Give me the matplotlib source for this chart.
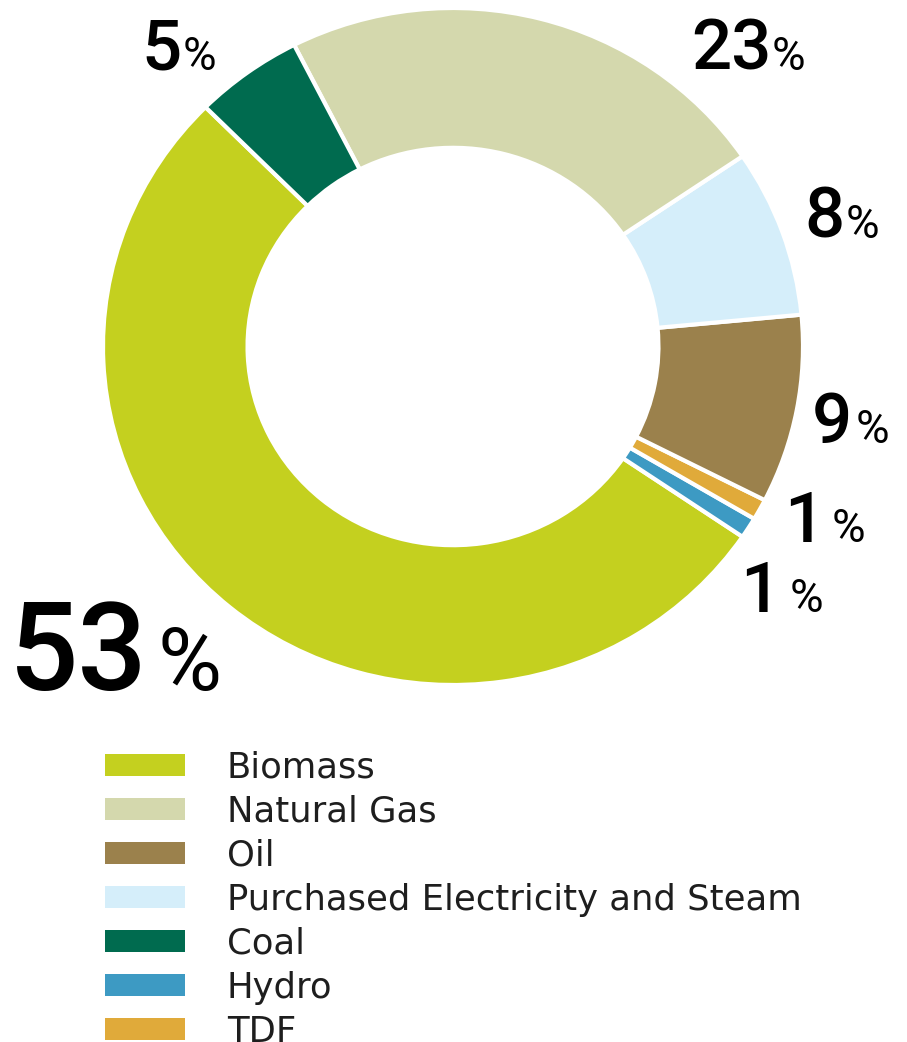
import matplotlib
matplotlib.use("Agg")
import matplotlib.pyplot as plt
from matplotlib.patches import Rectangle

# Energy sources, legend order
categories = ["Biomass", "Natural Gas", "Oil", "Purchased Electricity and Steam",
              "Coal", "Hydro", "TDF"]
shares = [53, 23, 9, 8, 5, 1, 1]
colors = ["#c4d01f", "#d4d8ad", "#9b814c", "#d5eefa", "#006b4f", "#3d9ac3", "#e0aa3a"]

# Order of the wedges around the ring (counter-clockwise from the Biomass start)
ring_order = ["Biomass", "Hydro", "TDF", "Oil", "Purchased Electricity and Steam",
              "Natural Gas", "Coal"]

W, H = 907, 1042
fig = plt.figure(figsize=(W / 100, H / 100), dpi=100)
fig.patch.set_facecolor("white")

FONT = "Roboto"
LEGEND_FONT = "DejaVu Sans"

# Donut axes (slightly wider than tall)
cx, cy = 453, 346.5
rx, ry = 350, 338.5
ax = fig.add_axes([(cx - rx) / W, (H - cy - ry) / H, 2 * rx / W, 2 * ry / H])
idx = [categories.index(c) for c in ring_order]
ax.pie([shares[i] for i in idx], colors=[colors[i] for i in idx],
       startangle=135, counterclock=True, radius=1.0,
       wedgeprops=dict(width=0.413, edgecolor="white", linewidth=3))
ax.set_aspect("auto")
ax.set_xlim(-1, 1)
ax.set_ylim(-1, 1)
ax.axis("off")

# Overlay axes in pixel units for labels and legend
ov = fig.add_axes([0, 0, 1, 1])
ov.set_xlim(0, W)
ov.set_ylim(H, 0)
ov.axis("off")
ov.patch.set_alpha(0)

# Percentage labels: (category, digit right edge, % left edge, baseline, big)
label_pos = [
    ("Biomass", 148, 158, 690, True),
    ("Coal", 181, 183, 70, False),
    ("Natural Gas", 772, 772, 70, False),
    ("Purchased Electricity and Steam", 845, 846, 238, False),
    ("Oil", 852, 856, 443, False),
    ("TDF", 824, 832, 542, False),
    ("Hydro", 780, 790, 612, False),
]
for cat, xr, xp, yb, big in label_pos:
    val = shares[categories.index(cat)]
    fs_num, fs_pct = (88, 63) if big else (51, 33)
    ov.text(xr, yb, f"{val}", ha="right", va="baseline", fontsize=fs_num,
            fontfamily=FONT, fontweight="medium", color="black")
    ov.text(xp, yb, "%", ha="left", va="baseline", fontsize=fs_pct,
            fontfamily=FONT, fontweight="normal", color="black")

# Legend
row0, step = 765, 44
for i, (cat, col) in enumerate(zip(categories, colors)):
    yc = row0 + i * step
    ov.add_patch(Rectangle((105, yc - 11), 80, 22, facecolor=col, edgecolor="none"))
    ov.text(227, yc + 13, cat, ha="left", va="baseline", fontsize=25.5,
            fontfamily=LEGEND_FONT, color="#1e1e1e")

fig.savefig("out.png", dpi=100, facecolor="white")
